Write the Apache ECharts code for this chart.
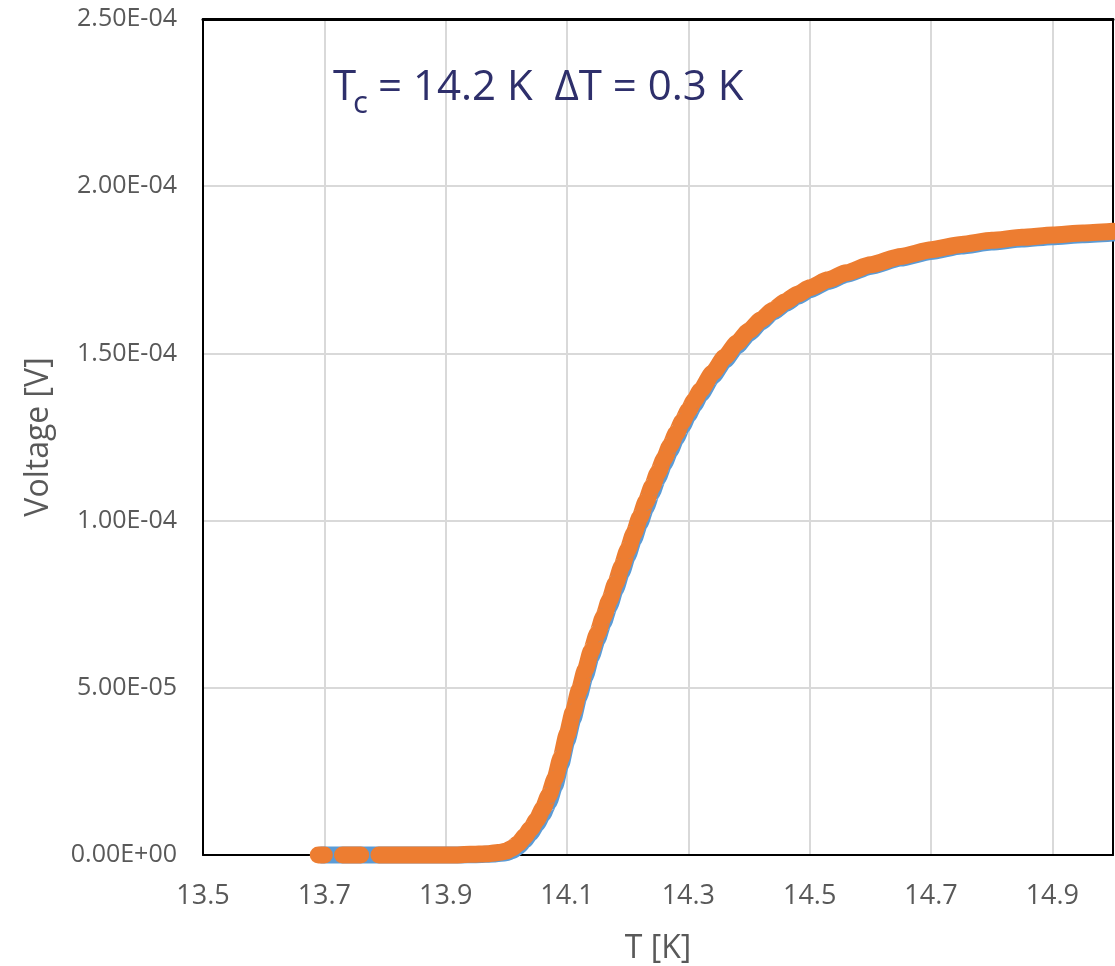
<!DOCTYPE html>
<html>
<head>
<meta charset="utf-8">
<script src="https://cdn.jsdelivr.net/npm/echarts@6/dist/echarts.min.js"></script>
<style>
html,body{margin:0;padding:0;background:#fff;}
#chart{width:1115px;height:966px;}
</style>
</head>
<body>
<div id="chart"></div>
<script>
// Orange series (T [K], Voltage [V]) — drawn in three runs of dots (gaps at the left end)
const orangeRun1T = [13.690, 13.700];
const orangeRun1V = [0, 0];
const orangeRun2T = [13.730, 13.738, 13.745, 13.752, 13.760];
const orangeRun2V = [0, 0, 0, 0, 0];
const orangeT = [13.790,13.820,13.850,13.880,13.910,13.940,13.970,13.990,14.000,14.010,14.020,14.030,14.040,14.050,14.060,14.070,14.080,14.090,14.100,14.110,14.120,14.130,14.140,14.150,14.160,14.170,14.180,14.190,14.200,14.210,14.220,14.230,14.240,14.250,14.260,14.270,14.280,14.290,14.300,14.310,14.320,14.340,14.360,14.380,14.400,14.420,14.440,14.460,14.480,14.500,14.530,14.560,14.600,14.650,14.700,14.750,14.800,14.850,14.900,14.950,15.000];
const orangeV = [0,0,0,0,0,2e-7,4e-7,8e-7,1.2e-6,2.1e-6,3.5e-6,5.5e-6,7.8e-6,1.05e-5,1.38e-5,1.78e-5,2.28e-5,2.90e-5,3.60e-5,4.27e-5,4.92e-5,5.53e-5,6.10e-5,6.62e-5,7.12e-5,7.62e-5,8.12e-5,8.62e-5,9.12e-5,9.61e-5,1.009e-4,1.056e-4,1.101e-4,1.144e-4,1.185e-4,1.224e-4,1.261e-4,1.296e-4,1.329e-4,1.360e-4,1.389e-4,1.442e-4,1.489e-4,1.531e-4,1.568e-4,1.601e-4,1.630e-4,1.655e-4,1.677e-4,1.696e-4,1.720e-4,1.741e-4,1.765e-4,1.790e-4,1.810e-4,1.826e-4,1.838e-4,1.847e-4,1.854e-4,1.860e-4,1.865e-4];
// Blue series (T [K], Voltage [V])
const blueT = [13.695,13.710,13.725,13.740,13.755,13.770,13.785,13.800,13.830,13.860,13.890,13.920,13.950,13.980,14.000,14.010,14.020,14.030,14.040,14.050,14.060,14.070,14.080,14.090,14.100,14.110,14.120,14.130,14.140,14.150,14.160,14.170,14.180,14.190,14.200,14.210,14.220,14.230,14.240,14.250,14.260,14.270,14.280,14.290,14.300,14.310,14.320,14.340,14.360,14.380,14.400,14.420,14.440,14.460,14.480,14.500,14.530,14.560,14.600,14.650,14.700,14.750,14.800,14.850,14.900,14.950,15.000];
const blueV = [0,0,0,0,0,0,0,0,0,0,0,0,1e-7,3e-7,7e-7,1.3e-6,2.6e-6,4.4e-6,6.6e-6,9.2e-6,1.22e-5,1.58e-5,2.08e-5,2.72e-5,3.42e-5,4.08e-5,4.74e-5,5.35e-5,5.93e-5,6.45e-5,6.95e-5,7.45e-5,7.95e-5,8.45e-5,8.95e-5,9.44e-5,9.92e-5,1.039e-4,1.084e-4,1.128e-4,1.170e-4,1.209e-4,1.247e-4,1.282e-4,1.316e-4,1.347e-4,1.377e-4,1.431e-4,1.479e-4,1.522e-4,1.560e-4,1.594e-4,1.624e-4,1.649e-4,1.671e-4,1.690e-4,1.715e-4,1.736e-4,1.760e-4,1.785e-4,1.805e-4,1.821e-4,1.833e-4,1.842e-4,1.849e-4,1.855e-4,1.860e-4];
// Axis ticks
const xMin = 13.5, xMax = 15.0, xStep = 0.2;
const yMin = 0, yMax = 2.5e-4, yStep = 5e-5;

function pairs(ts, vs){ return ts.map((t,i)=> [t, vs[i]]); }
function sci(v){
  if (v === 0) return '0.00E+00';
  const e = Math.floor(Math.log10(Math.abs(v)) + 1e-9);
  const m = v / Math.pow(10, e);
  return m.toFixed(2) + 'E' + (e < 0 ? '-' : '+') + String(Math.abs(e)).padStart(2, '0');
}

const FONT = '"Open Sans", sans-serif';
const NAVY = '#2e2f6b';
const BLUE = '#5b9bd5', ORANGE = '#ed7d31';
const BAND = 17;

function dotLine(name, data, color, z){
  return {
    name: name, type: 'line', data: data, clip: false, z: z,
    xAxisIndex: 0, yAxisIndex: 0,
    showSymbol: false, symbol: 'none',
    smooth: 0.2, smoothMonotone: 'x',
    lineStyle: {color: color, width: BAND, cap: 'round', join: 'round'},
    emphasis: {disabled: true}
  };
}

const chart = echarts.init(document.getElementById('chart'), null, {renderer:'canvas'});
chart.setOption({
  animation: false,
  backgroundColor: '#ffffff',
  grid: {left: 203, top: 19, right: 2, bottom: 111, outerBoundsMode: 'none', containLabel: false},
  xAxis: [{
    type: 'value', min: xMin, max: xMax, interval: xStep, position: 'bottom',
    name: 'T [K]', nameLocation: 'middle', nameGap: 78,
    nameTextStyle: {color: '#595959', fontSize: 32, fontFamily: FONT},
    axisLine: {show: true, onZero: false, lineStyle: {color: '#000000', width: 2}},
    axisTick: {show: false},
    axisLabel: {color: '#595959', fontSize: 27, fontFamily: FONT, margin: 28, showMaxLabel: false,
      formatter: v => v.toFixed(1)},
    splitLine: {show: true, lineStyle: {color: '#d9d9d9', width: 2}}
  }, {
    type: 'value', min: xMin, max: xMax, interval: xStep, position: 'top',
    axisLine: {show: true, onZero: false, lineStyle: {color: '#000000', width: 3}},
    axisTick: {show: false}, axisLabel: {show: false}, splitLine: {show: false}
  }],
  yAxis: [{
    type: 'value', min: yMin, max: yMax, interval: yStep, position: 'left',
    name: 'Voltage [V]', nameLocation: 'middle', nameGap: 148, nameRotate: 90,
    nameTextStyle: {color: '#595959', fontSize: 32, fontFamily: FONT},
    axisLine: {show: true, onZero: false, lineStyle: {color: '#000000', width: 2}},
    axisTick: {show: false},
    axisLabel: {color: '#595959', fontSize: 25, fontFamily: FONT, margin: 26, formatter: sci},
    splitLine: {show: true, lineStyle: {color: '#d9d9d9', width: 2}}
  }, {
    type: 'value', min: yMin, max: yMax, interval: yStep, position: 'right',
    axisLine: {show: true, onZero: false, lineStyle: {color: '#000000', width: 2}},
    axisTick: {show: false}, axisLabel: {show: false}, splitLine: {show: false}
  }],
  graphic: [
    {type: 'text', left: 333, top: 67, z: 100,
     style: {text: 'T', fill: NAVY, fontSize: 42, fontFamily: FONT}},
    {type: 'text', left: 353, top: 89, z: 100,
     style: {text: 'c', fill: NAVY, fontSize: 31, fontFamily: FONT}},
    {type: 'text', left: 378, top: 67, z: 100,
     style: {text: '= 14.2 K  ΔT = 0.3 K', fill: NAVY, fontSize: 42, fontFamily: FONT}}
  ],
  series: [
    dotLine('blue', pairs(blueT, blueV), BLUE, 2),
    dotLine('orange', pairs(orangeRun1T, orangeRun1V), ORANGE, 3),
    dotLine('orange2', pairs(orangeRun2T, orangeRun2V), ORANGE, 3),
    dotLine('orange3', pairs(orangeT, orangeV), ORANGE, 3)
  ]
});
</script>
</body>
</html>
